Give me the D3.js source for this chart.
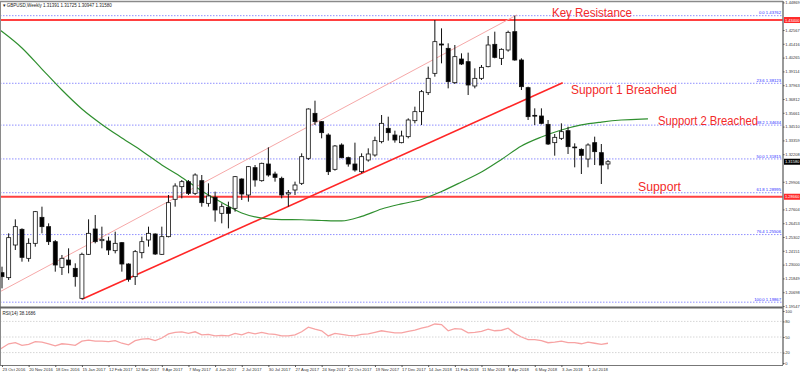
<!DOCTYPE html>
<html>
<head>
<meta charset="utf-8">
<script src="https://cdn.jsdelivr.net/npm/d3@7"></script>
<style>
  body { margin: 0; background: #fff; }
  svg { display: block; }
  text { font-family: "Liberation Sans", Arial, sans-serif; }
</style>
</head>
<body>
<svg id="chart" width="800" height="374"></svg>
<script>
// weekly GBPUSD bars, 23 Oct 2016 .. 22 Jul 2018
const opens = [1.22328,1.21912,1.24636,1.25943,1.23524,1.24775,1.26943,1.26165,1.24914,1.22773,1.23385,1.22690,1.20188,1.23858,1.25970,1.24997,1.24970,1.24163,1.24831,1.23051,1.21995,1.23997,1.25053,1.25553,1.23858,1.25331,1.28445,1.29501,1.29918,1.28945,1.30001,1.28111,1.28611,1.27277,1.27777,1.27694,1.30140,1.28806,1.31086,1.30001,1.31391,1.30557,1.30196,1.28889,1.29223,1.29780,1.31864,1.35617,1.34922,1.33810,1.30947,1.32976,1.31920,1.31391,1.30752,1.31725,1.32142,1.33254,1.34366,1.33810,1.33171,1.33671,1.35005,1.35756,1.37341,1.38953,1.41399,1.41038,1.38175,1.40148,1.39926,1.37897,1.38536,1.39509,1.41372,1.40204,1.40899,1.42428,1.40065,1.37758,1.35450,1.35395,1.34700,1.33171,1.33532,1.34171,1.32809,1.32615,1.31808,1.33171,1.32337,1.31391];
const highs = [1.22828,1.25609,1.26777,1.26026,1.25192,1.27472,1.27833,1.26443,1.25053,1.23802,1.24358,1.23107,1.23997,1.26777,1.27138,1.26165,1.25331,1.25748,1.24887,1.23107,1.24219,1.25331,1.26165,1.25609,1.26165,1.28806,1.29780,1.30057,1.30057,1.30613,1.30474,1.29780,1.29084,1.28111,1.28250,1.30391,1.30196,1.31225,1.31308,1.31503,1.32781,1.30752,1.30335,1.29223,1.29918,1.32281,1.36034,1.36673,1.34978,1.33949,1.32976,1.33115,1.32003,1.33171,1.32281,1.32698,1.33671,1.35478,1.35339,1.34171,1.34171,1.35200,1.36173,1.37563,1.39509,1.43401,1.42706,1.41455,1.41316,1.40621,1.40677,1.39370,1.39648,1.42067,1.42428,1.41038,1.42511,1.43762,1.40204,1.37841,1.36034,1.36034,1.35061,1.33893,1.34783,1.34505,1.33115,1.32698,1.33115,1.33671,1.33059,1.31725];
const lows = [1.21021,1.21717,1.24219,1.23246,1.23246,1.24497,1.25609,1.24636,1.22412,1.22134,1.22273,1.21161,1.20105,1.23802,1.24775,1.24358,1.23802,1.23941,1.22412,1.21578,1.21300,1.23524,1.24497,1.23802,1.23802,1.25275,1.27833,1.28528,1.28806,1.28806,1.27833,1.27833,1.26582,1.26443,1.26026,1.27416,1.28390,1.28250,1.29501,1.29918,1.30335,1.29918,1.28528,1.27833,1.28806,1.29640,1.31725,1.34644,1.33532,1.30474,1.30835,1.31864,1.31169,1.30752,1.30613,1.31586,1.32003,1.33115,1.33337,1.33171,1.33115,1.33532,1.34783,1.34644,1.37146,1.38675,1.39787,1.37702,1.38063,1.39648,1.37146,1.37702,1.38397,1.39453,1.40204,1.39648,1.40760,1.40009,1.37563,1.35061,1.34644,1.34700,1.32976,1.32086,1.33393,1.32225,1.31113,1.30557,1.31113,1.31308,1.29723,1.30947];
const closes = [1.21995,1.25248,1.26165,1.23607,1.24775,1.27416,1.26165,1.24914,1.22968,1.23524,1.22968,1.21995,1.23858,1.25609,1.24914,1.25108,1.24219,1.24775,1.23051,1.21773,1.24080,1.24914,1.25609,1.23885,1.25331,1.28167,1.29557,1.29918,1.28945,1.30474,1.28167,1.28723,1.27555,1.27833,1.27277,1.30335,1.28889,1.31169,1.30057,1.31447,1.30474,1.30280,1.28806,1.29000,1.29640,1.32003,1.35978,1.34922,1.34005,1.30752,1.32893,1.31920,1.31391,1.30891,1.32003,1.32225,1.33337,1.34783,1.34005,1.33393,1.33727,1.35061,1.35756,1.37424,1.38536,1.41594,1.41316,1.38258,1.40343,1.39731,1.37980,1.38536,1.39453,1.41316,1.40287,1.40955,1.42372,1.40065,1.37841,1.35339,1.35395,1.34783,1.33059,1.33615,1.34088,1.32837,1.32754,1.32114,1.32976,1.32420,1.31308,1.31580];

// RSI(14), one value per bar (first entry is the bar before the window)
const rsiValues = [20,29,37,39,34,36,41,40,37,33,37,36,34,42,44,42,42,41,43,38,35,43,46,47,43,48,56,59,60,57,60,54,55,52,53,52,57,54,59,56,59,56,55,52,52,54,60,69,65,62,52,57,55,53,52,55,56,59,62,60,58,58,61,63,67,70,75,74,62,66,65,58,59,61,65,62,63,67,57,50,45,45,43,39,40,42,39,39,37,40,38,36,38];

// shifted moving average, read at every third bar
const maBars = [-1,0,3,6,9,12,15,18,21,24,27,30,33,36,39,42,45,48,51,54,57,60,63,66,69,72,75,78,81,84,87,90,93,96,97];
const maValues = [1.4285,1.4244,1.4107,1.3931,1.3756,1.3598,1.3469,1.3356,1.3248,1.3131,1.3027,1.2914,1.2818,1.2731,1.2688,1.2676,1.2674,1.2668,1.2664,1.2702,1.2764,1.2807,1.2843,1.2910,1.2989,1.3072,1.3177,1.3289,1.3364,1.3423,1.3465,1.3489,1.3506,1.3514,1.3515];

const fibLevels = ["0.0","23.6","38.2","50.0","61.8","76.4","100.0"];
const fibPrices = [1.43762,1.38123,1.34634,1.31815,1.28995,1.25506,1.19867];

const keyResistance = 1.43400;
const supportLevel = 1.28660;
const supportTrend = [[12, 1.20105], [84.2, 1.3817]];
const channelTrend = [[-0.3, 1.2074], [77.3, 1.4382]];

const priceTicks = [1.44869,1.42567,1.41416,1.40265,1.39114,1.37963,1.36812,1.35661,1.34510,1.33359,1.32208,1.29906,1.27604,1.26453,1.25302,1.24151,1.23000,1.21849,1.20698,1.19547];
const rsiTicks = [100,80,50,20,0];
const rsiLevels = [80,50,20];

const dateBars = [0,4,8,12,16,20,24,28,32,36,40,44,48,52,56,60,64,68,72,76,80,84,88];
const dateLabels = ["23 Oct 2016","20 Nov 2016","18 Dec 2016","15 Jan 2017","12 Feb 2017","12 Mar 2017","9 Apr 2017","7 May 2017","4 Jun 2017","2 Jul 2017","30 Jul 2017","27 Aug 2017","24 Sep 2017","22 Oct 2017","19 Nov 2017","17 Dec 2017","14 Jan 2018","11 Feb 2018","11 Mar 2018","8 Apr 2018","6 May 2018","3 Jun 2018","1 Jul 2018"];

const axisX = 783, mainBottom = 307, rsiBottom = 365;
const svg = d3.select("#chart");
svg.append("rect").attr("width", 800).attr("height", 374).attr("fill", "#fff");

const x = d3.scaleLinear().domain([0, 91]).range([2, 608]);
const y = d3.scaleLinear().domain([1.19857, 1.4376]).range([302.3, 15.7]);
const yR = d3.scaleLinear().domain([0, 100]).range([363, 311]);

const defs = svg.append("defs");
defs.append("clipPath").attr("id", "mainClip").append("rect")
  .attr("x", 0).attr("y", 2).attr("width", axisX).attr("height", mainBottom - 2);
defs.append("clipPath").attr("id", "rsiClip").append("rect")
  .attr("x", 0).attr("y", mainBottom + 1).attr("width", axisX).attr("height", rsiBottom - mainBottom - 1);

const main = svg.append("g").attr("clip-path", "url(#mainClip)");

// fibonacci levels
fibPrices.forEach((p, k) => {
  main.append("line")
    .attr("x1", 0).attr("x2", axisX - 1)
    .attr("y1", y(p)).attr("y2", y(p))
    .attr("stroke", "#8f8fff").attr("stroke-width", 1)
    .attr("stroke-dasharray", "1.5,1.5");
  main.append("text")
    .attr("x", axisX - 2).attr("y", y(p) - 1.3)
    .attr("text-anchor", "end")
    .attr("font-size", 4.2).attr("fill", "#2a2aff")
    .text(fibLevels[k] + " " + d3.format(".5f")(p));
});

// horizontal key levels
[keyResistance, supportLevel].forEach(p => {
  main.append("line")
    .attr("x1", 0).attr("x2", axisX)
    .attr("y1", y(p)).attr("y2", y(p))
    .attr("stroke", "#ff4040").attr("stroke-width", 2);
});

const line = d3.line().x(d => x(d[0])).y(d => y(d[1]));

main.append("path").datum(channelTrend)
  .attr("d", line).attr("fill", "none")
  .attr("stroke", "#f6a8a8").attr("stroke-width", 1);

main.append("path").datum(supportTrend)
  .attr("d", line).attr("fill", "none")
  .attr("stroke", "#ff2626").attr("stroke-width", 1.6);

// moving average
main.append("path")
  .datum(maBars.map((b, k) => [b, maValues[k]]))
  .attr("d", line.curve(d3.curveMonotoneX))
  .attr("fill", "none").attr("stroke", "#2f8f2f").attr("stroke-width", 1.2);

// candles
const candles = main.append("g").selectAll("g").data(d3.range(opens.length)).enter().append("g");
candles.append("line")
  .attr("x1", i => x(i)).attr("x2", i => x(i))
  .attr("y1", i => y(highs[i])).attr("y2", i => y(lows[i]))
  .attr("stroke", "#111").attr("stroke-width", 1);
candles.append("rect")
  .attr("x", i => x(i) - 2)
  .attr("width", 4)
  .attr("y", i => y(Math.max(opens[i], closes[i])))
  .attr("height", i => Math.max(0.8, Math.abs(y(opens[i]) - y(closes[i]))))
  .attr("fill", i => closes[i] >= opens[i] ? "#fff" : "#000")
  .attr("stroke", "#111").attr("stroke-width", 0.8);

// annotations
const notes = [
  { t: "Key Resistance", x: 552, y: 16.5, w: 80 },
  { t: "Support 1 Breached", x: 571, y: 94, w: 106 },
  { t: "Support 2 Breached", x: 658, y: 125, w: 100 },
  { t: "Support", x: 638, y: 191, w: 43 }
];
svg.selectAll(".note").data(notes).enter().append("text")
  .attr("class", "note")
  .attr("x", d => d.x).attr("y", d => d.y)
  .attr("textLength", d => d.w).attr("lengthAdjust", "spacingAndGlyphs")
  .attr("font-size", 12.5).attr("fill", "#f22a2a")
  .text(d => d.t);

// RSI panel
const rsi = svg.append("g").attr("clip-path", "url(#rsiClip)");
rsiLevels.forEach(v => {
  rsi.append("line").attr("x1", 0).attr("x2", axisX)
    .attr("y1", yR(v)).attr("y2", yR(v))
    .attr("stroke", "#d6d6d6").attr("stroke-width", 1)
    .attr("stroke-dasharray", "1.5,1.5");
});
rsi.append("path")
  .datum(rsiValues.map((v, k) => [k - 1, v]))
  .attr("d", d3.line().x(d => x(d[0])).y(d => yR(d[1])))
  .attr("fill", "none").attr("stroke", "#f7a3a3").attr("stroke-width", 1.3);

// frame
const frame = "#8a8a8a";
svg.append("line").attr("x1", 0.5).attr("x2", 0.5).attr("y1", 1).attr("y2", rsiBottom).attr("stroke", frame);
svg.append("line").attr("x1", 0).attr("x2", axisX).attr("y1", 1.5).attr("y2", 1.5).attr("stroke", frame).attr("stroke-width", 1.5);
svg.append("line").attr("x1", 0).attr("x2", axisX).attr("y1", mainBottom + 0.5).attr("y2", mainBottom + 0.5).attr("stroke", "#666").attr("stroke-width", 1.8);
svg.append("line").attr("x1", axisX).attr("x2", axisX).attr("y1", 1).attr("y2", rsiBottom).attr("stroke", "#777").attr("stroke-width", 1.5);

// price axis
const yAxis = svg.append("g").attr("transform", `translate(${axisX},0)`)
  .call(d3.axisRight(y).tickValues(priceTicks).tickFormat(d3.format(".5f")).tickSize(1.5).tickPadding(0.8));
yAxis.select(".domain").remove();
yAxis.selectAll("line").attr("stroke", "#555");
yAxis.selectAll("text").attr("font-size", 4).attr("fill", "#333")
  .attr("font-family", "Liberation Sans, Arial, sans-serif");

// price markers on the axis
const markers = [
  { p: keyResistance, c: "#ff2a2a" },
  { p: closes[closes.length - 1], c: "#000" },
  { p: supportLevel, c: "#ff2a2a" }
];
markers.forEach(m => {
  svg.append("rect").attr("x", axisX + 1).attr("y", y(m.p) - 3).attr("width", 16.5).attr("height", 6).attr("fill", m.c);
  svg.append("text").attr("x", axisX + 2).attr("y", y(m.p) + 1.5)
    .attr("font-size", 4).attr("fill", "#fff").text(d3.format(".5f")(m.p));
});

// RSI axis
const rAxis = svg.append("g").attr("transform", `translate(${axisX},0)`)
  .call(d3.axisRight(yR).tickValues(rsiTicks).tickSize(1.5).tickPadding(0.8));
rAxis.select(".domain").remove();
rAxis.selectAll("line").attr("stroke", "#555");
rAxis.selectAll("text").attr("font-size", 4).attr("fill", "#333")
  .attr("font-family", "Liberation Sans, Arial, sans-serif");

// date axis
const xAxis = svg.append("g").attr("transform", `translate(0,${rsiBottom})`)
  .call(d3.axisBottom(x).tickValues(dateBars).tickFormat((d, k) => dateLabels[k]).tickSize(2).tickPadding(1));
xAxis.select(".domain").attr("stroke", "#777").attr("d", `M0,0.5H${axisX}`);
xAxis.selectAll("line").attr("stroke", "#555");
xAxis.selectAll("text").attr("font-size", 4.2).attr("fill", "#333")
  .attr("text-anchor", "start").attr("font-family", "Liberation Sans, Arial, sans-serif");

// titles
svg.append("text").attr("x", 2.5).attr("y", 7).attr("font-size", 4.5).attr("fill", "#222")
  .text("\u25BE GBPUSD,Weekly  1.31391 1.31725 1.30947 1.31580");
svg.append("text").attr("x", 2.5).attr("y", 314.5).attr("font-size", 4.5).attr("fill", "#222")
  .text("RSI(14) 38.1686");
</script>
</body>
</html>
